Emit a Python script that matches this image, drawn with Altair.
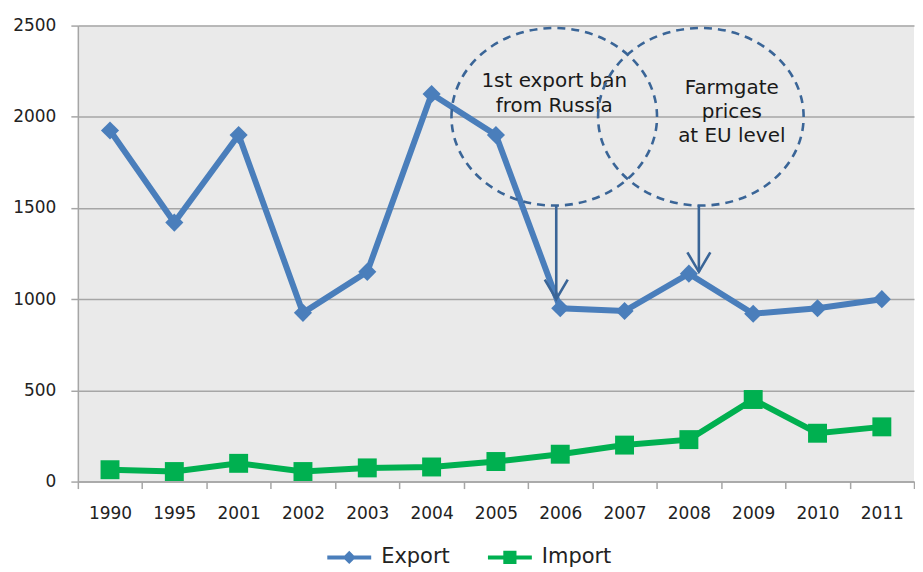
import altair as alt
import pandas as pd

years = ["1990", "1995", "2001", "2002", "2003", "2004", "2005", "2006",
         "2007", "2008", "2009", "2010", "2011"]
export_vals = [1925, 1420, 1900, 925, 1150, 2125, 1900, 950, 935, 1140, 920, 950, 1000]
import_vals = [65, 55, 100, 55, 75, 80, 110, 150, 200, 230, 450, 265, 300]
series_names = ["Export", "Import"]
series_colors = ["#4A7EBB", "#00B050"]
y_ticks = [0, 500, 1000, 1500, 2000, 2500]

# annotations: text lines, anchor year, ellipse centre value, first text line value, arrow top, arrow tip
ann_left_text = ["1st export ban", "from Russia"]
ann_right_text = ["Farmgate", "prices", "at EU level"]
ann_years = ["2006", "2008"]
ann_center = [2000, 2000]
ann_text_y = [2195, 2160]
arrow_top = [1515, 1515]
arrow_tip = [1000, 1150]

FONT = "DejaVu Sans"
ANN = "#3A6597"

df = pd.DataFrame({
    "year": years * 2,
    "value": export_vals + import_vals,
    "series": ["Export"] * len(years) + ["Import"] * len(years),
})

xenc = alt.X("year:N", sort=years, scale=alt.Scale(type="band", paddingInner=0, paddingOuter=0),
             axis=alt.Axis(title=None, tickBand="extent", labelAngle=0, grid=False))
yenc = alt.Y("value:Q", scale=alt.Scale(domain=[0, 2500], nice=False),
             axis=alt.Axis(title=None, values=y_ticks, grid=True, format="d"))

cscale = alt.Scale(domain=series_names, range=series_colors)

lines = alt.Chart(df).mark_line(strokeWidth=6).encode(
    x=xenc, y=yenc,
    color=alt.Color("series:N", scale=cscale, legend=None),
)
points = alt.Chart(df).mark_point(filled=True, opacity=1).encode(
    x=xenc, y=yenc,
    color=alt.Color("series:N", scale=cscale, legend=None),
    shape=alt.Shape("series:N", scale=alt.Scale(domain=series_names, range=["diamond", "square"]), legend=None),
    size=alt.Size("series:N", scale=alt.Scale(domain=series_names, range=[330, 360]), legend=None),
)

leg_export = "M -1 -0.09 L 1 -0.09 L 1 0.09 L -1 0.09 Z M 0 -0.3 L 0.3 0 L 0 0.3 L -0.3 0 Z"
leg_import = "M -1 -0.09 L 1 -0.09 L 1 0.09 L -1 0.09 Z M -0.3 -0.3 L 0.3 -0.3 L 0.3 0.3 L -0.3 0.3 Z"

legend_layer = alt.Chart(df).transform_filter("datum.value < 0").mark_point(filled=True, opacity=1).encode(
    x=xenc, y=yenc,
    color=alt.Color("series:N", scale=cscale,
                    legend=alt.Legend(title=None, orient="none", legendX=250, legendY=511,
                                      direction="horizontal", symbolSize=1936, labelFontSize=21,
                                      labelFont=FONT, labelColor="#222222", labelOffset=10,
                                      columnPadding=38, symbolStrokeWidth=0, symbolOpacity=1)),
    shape=alt.Shape("series:N", scale=alt.Scale(domain=series_names, range=[leg_export, leg_import])),
)

ell_path = "M -1 0 A 1 0.864 0 1 1 1 0 A 1 0.864 0 1 1 -1 0 Z"
arrow_path = "M -1 -1.7 L 0 0 L 1 -1.7"

ann_df = pd.DataFrame({
    "year": ann_years,
    "c": ann_center,
    "ty": ann_text_y,
    "top": arrow_top,
    "tip": arrow_tip,
    "label": ["\n".join(ann_left_text), "\n".join(ann_right_text)],
})

def ann_layers(idx, ell_off, arr_off, txt_off):
    d = ann_df.iloc[[idx]]
    base = alt.Chart(d)
    x = alt.X("year:N", sort=years)
    ell = base.mark_point(shape=ell_path, size=42436, filled=False, stroke=ANN, strokeWidth=2.6,
                          strokeDash=[8, 6], opacity=1, xOffset=ell_off).encode(
        x=x, y=alt.Y("c:Q"))
    rule = base.mark_rule(color=ANN, strokeWidth=2.6, xOffset=arr_off).encode(
        x=x, y=alt.Y("top:Q"), y2="tip:Q")
    head = base.mark_point(shape=arrow_path, size=529, filled=False, stroke=ANN, strokeWidth=2.6,
                           opacity=1, xOffset=arr_off).encode(x=x, y=alt.Y("tip:Q"))
    txt = base.mark_text(font=FONT, fontSize=20, lineBreak="\n", lineHeight=24.5, color="#1A1A1A",
                         xOffset=txt_off).encode(
        x=x, y=alt.Y("ty:Q"), text="label:N")
    return [ell, rule, head, txt]

layers = [lines, points, legend_layer] + ann_layers(0, -6, -4, -6) + ann_layers(1, 12, 10, 43)

chart = alt.layer(*layers).resolve_scale(
    color="independent", shape="independent", size="independent"
).properties(
    width=838, height=457,
    padding={"left": 4, "top": 8, "right": 0, "bottom": 0},
    background="white",
).configure_view(
    fill="#EAEAEA", stroke=None
).configure_axis(
    labelFont=FONT, labelFontSize=17, labelColor="#222222",
    domainColor="#A6A6A6", domainWidth=1.5, tickColor="#A6A6A6", tickWidth=1.5,
    gridColor="#A6A6A6", gridWidth=1.5, tickSize=7,
).configure_axisX(labelPadding=17).configure_axisY(labelPadding=15)

chart.save("out.html", embed_options={"renderer": "svg", "actions": False})
